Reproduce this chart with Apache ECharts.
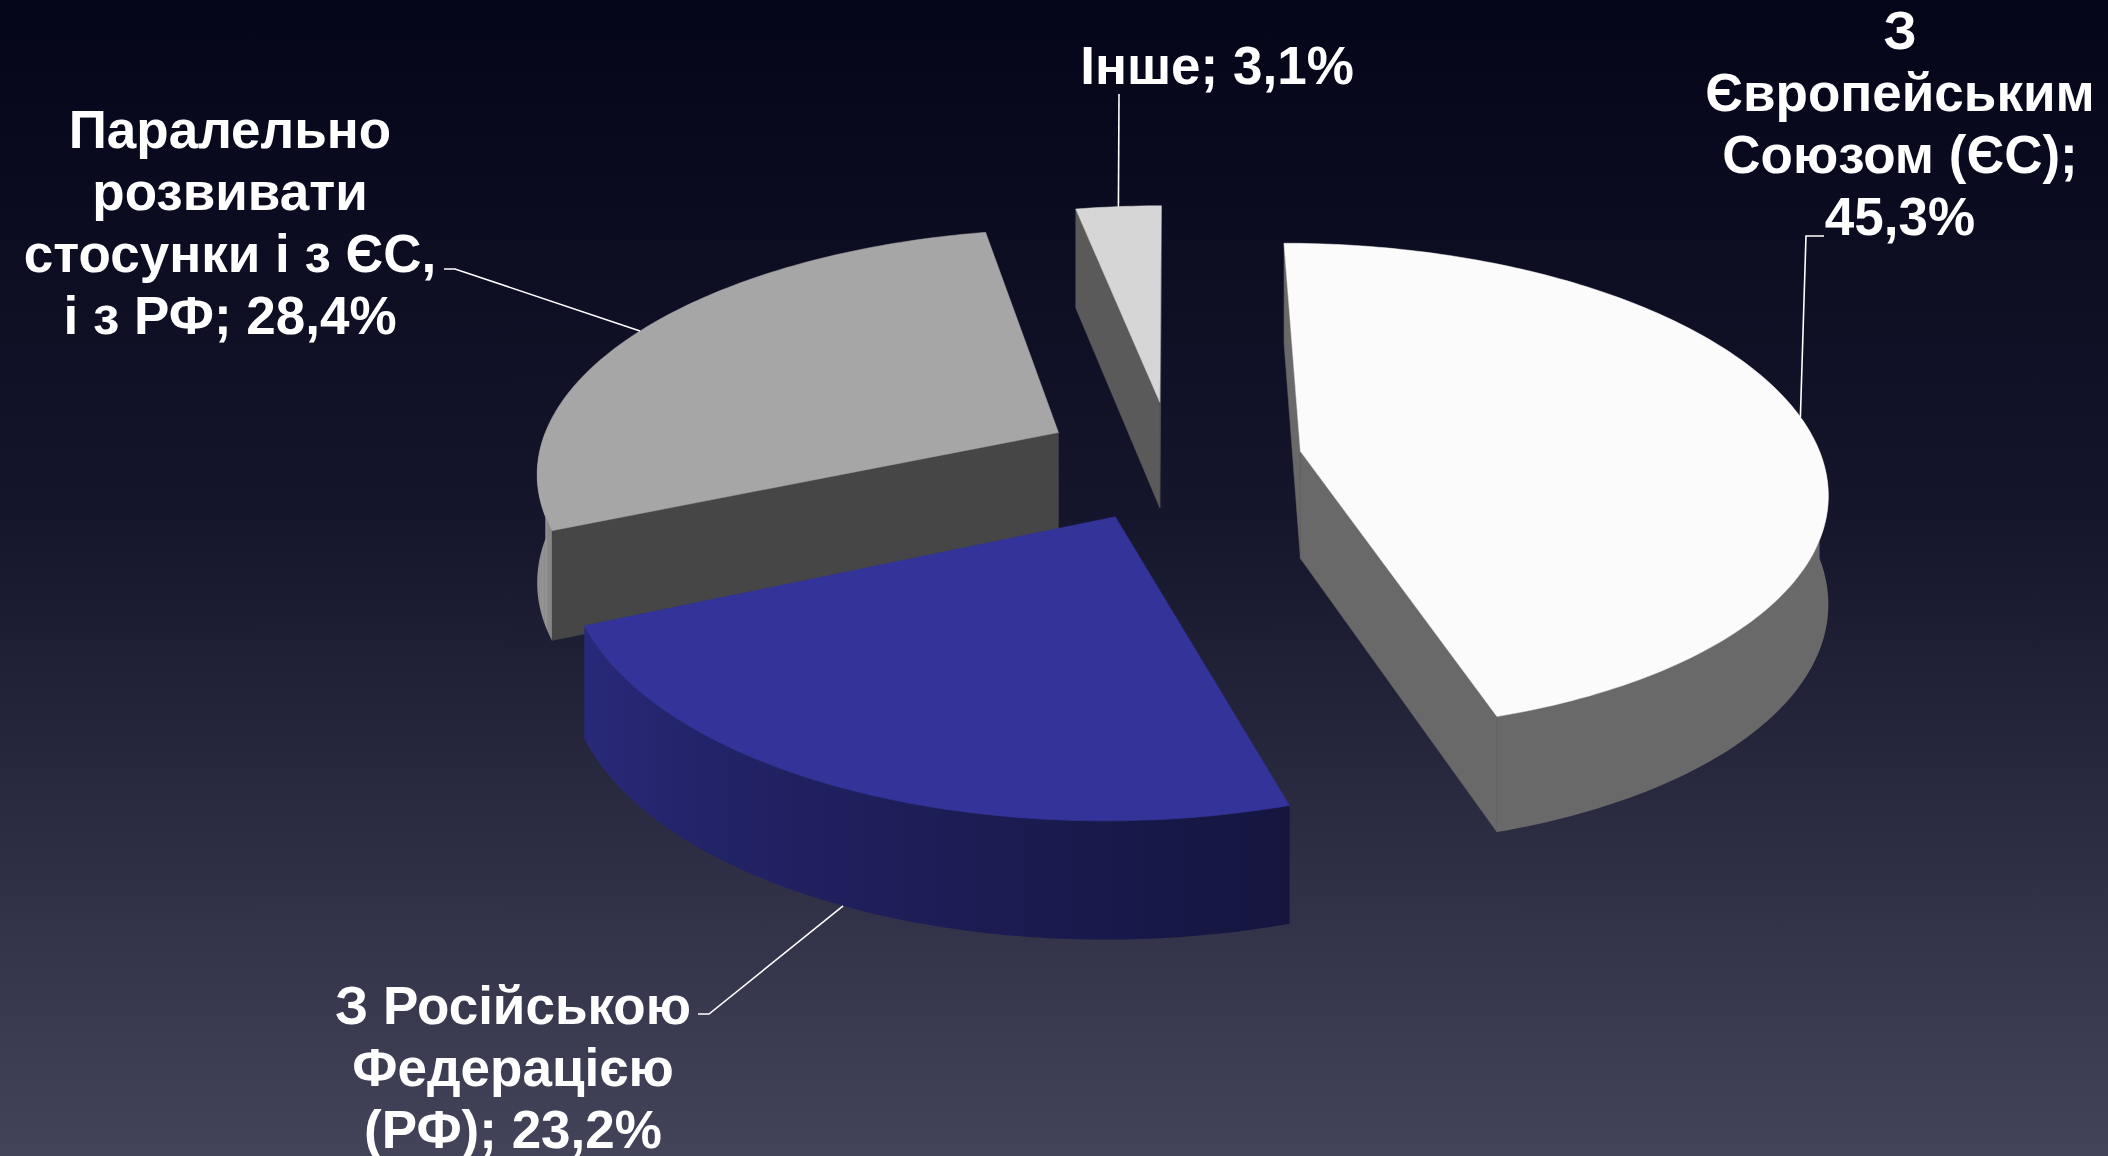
<!DOCTYPE html>
<html><head><meta charset="utf-8">
<script src="https://cdn.jsdelivr.net/npm/echarts@6/dist/echarts.min.js"></script>
<style>html,body{margin:0;padding:0;width:100%;height:100%;overflow:hidden;background:#0a0a18}#main{width:2108px;height:1156px}</style>
</head><body><div id="main"></div>
<script>
// ---- data ----
const categories = ['З Європейським Союзом (ЄС)', 'З Російською Федерацією (РФ)', 'Паралельно розвивати стосунки і з ЄС, і з РФ', 'Інше'];
const values = [45.3, 23.2, 28.4, 3.1];

// ---- styles / layout ----
const topColors = ['#fbfbfb', '#333399', '#a6a6a6', '#d6d6d6'];
const labelWordsPerLine = [[1, 1, 2, 1], [2, 1, 2], [1, 1, 4, 4], [2]];
const labelLayout = [
  { x: 1900, y: 123, leader: [[1824, 236], [1806, 236]], bottom: false },
  { x: 513, y: 1067, leader: [[698, 1014], [709, 1014]], bottom: true },
  { x: 230, y: 222, leader: [[444, 269], [455, 269]], bottom: false },
  { x: 1217, y: 65, leader: [[1119, 94]], bottom: false }
];
const FONT = 'bold 53px "Liberation Sans", Arial, sans-serif';

function shade(hex, f) {
  const n = parseInt(hex.slice(1), 16);
  const r = Math.round(((n >> 16) & 255) * f), g = Math.round(((n >> 8) & 255) * f), b = Math.round((n & 255) * f);
  return 'rgb(' + r + ',' + g + ',' + b + ')';
}
function wallFactor(phi) {
  if (phi <= 165) return 0.42;
  return Math.min(0.92, 0.42 + 0.5 * (phi - 165) / 105);
}
function fmtPct(v) { return v.toFixed(1).replace('.', ',') + '%'; }
function labelText(i) {
  const words = (categories[i] + '; ' + fmtPct(values[i])).split(' ');
  const lines = []; let k = 0;
  labelWordsPerLine[i].forEach(n => { lines.push(words.slice(k, k + n).join(' ')); k += n; });
  if (k < words.length) lines[lines.length - 1] += ' ' + words.slice(k).join(' ');
  return lines.join('\n');
}
function area(pts) {
  let s = 0;
  for (let i = 0; i < pts.length; i++) { const a = pts[i], b = pts[(i + 1) % pts.length]; s += a[0] * b[1] - b[0] * a[1]; }
  return s;
}
const rad = d => d * Math.PI / 180;
const E = 0.25, P = 0.147;

function renderItem(params, api) {
  const i = params.dataIndex;
  const W = api.getWidth(), H = api.getHeight();
  const sx = W / 2108, sy = H / 1156;
  const cx = W * 0.556, cy = H * 0.398, RX = W * 0.2476, RY = H * 0.2085, TH = H * 0.093;
  const total = values.reduce((a, b) => a + b, 0);
  let start = 0;
  for (let k = 0; k < i; k++) start += values[k] / total * 360;
  const end = start + api.value(0) / total * 360;
  const mid = (start + end) / 2;
  // depth rank (back to front)
  const depths = values.map((v, k) => {
    let s0 = 0; for (let j = 0; j < k; j++) s0 += values[j] / total * 360;
    const m = s0 + v / total * 180; return -Math.cos(rad(m));
  });
  const sorted = depths.slice().sort((a, b) => a - b);
  const base = sorted.indexOf(depths[i]) * 10;

  const ex = E * Math.sin(rad(mid)), ez = -E * Math.cos(rad(mid));
  function pt(X, Z, d) { const s = 1 / (1 - P * Z); return [cx + RX * X * s, cy + RY * Z * s + TH * d * Math.sqrt(s)]; }
  const rim = (phi, d) => pt(ex + Math.sin(rad(phi)), ez - Math.cos(rad(phi)), d);
  const apex = d => pt(ex, ez, d);
  const col = topColors[i];
  const children = [];

  // cut faces
  const sf = [apex(0), rim(start, 0), rim(start, 1), apex(1)];
  if (area(sf) < 0) children.push({ type: 'polygon', z2: base + 1, shape: { points: sf }, style: { fill: shade(col, 0.42), stroke: shade(col, 0.42), lineWidth: 0.5 } });
  const ef = [apex(0), rim(end, 0), rim(end, 1), apex(1)];
  if (area(ef) > 0) children.push({ type: 'polygon', z2: base + 1, shape: { points: ef }, style: { fill: shade(col, 0.42), stroke: shade(col, 0.42), lineWidth: 0.5 } });

  // outer wall
  const a = Math.max(start, 90), b = Math.min(end, 270);
  if (a < b) {
    const n = Math.max(2, Math.ceil(b - a));
    const topPts = [], botPts = [];
    for (let k = 0; k <= n; k++) { const phi = a + (b - a) * k / n; topPts.push(rim(phi, 0)); botPts.push(rim(phi, 1)); }
    const pts = topPts.concat(botPts.reverse());
    const xs = topPts.map(p => p[0]);
    const xmin = Math.min.apply(null, xs), xmax = Math.max.apply(null, xs);
    const stops = [];
    for (let k = 0; k <= 12; k++) {
      const phi = a + (b - a) * k / 12; const x = rim(phi, 0)[0];
      stops.push({ offset: xmax > xmin ? (x - xmin) / (xmax - xmin) : 0, color: shade(col, wallFactor(phi)) });
    }
    stops.sort((p, q) => p.offset - q.offset);
    children.push({ type: 'polygon', z2: base + 2, shape: { points: pts },
      style: { fill: new echarts.graphic.LinearGradient(xmin, 0, xmax, 0, stops, true) } });
  }

  // top face
  const tp = [apex(0)];
  const nt = Math.max(2, Math.ceil(end - start));
  for (let k = 0; k <= nt; k++) tp.push(rim(start + (end - start) * k / nt, 0));
  children.push({ type: 'polygon', z2: base + 3, shape: { points: tp }, style: { fill: col, stroke: col, lineWidth: 0.5 } });

  // label + leader
  const L = labelLayout[i];
  const att = rim(mid, L.bottom ? 1 : 0);
  const lpts = L.leader.map(p => [p[0] * sx, p[1] * sy]).concat([att]);
  children.push({ type: 'polyline', z2: 99, shape: { points: lpts }, style: { stroke: '#ffffff', lineWidth: 1.6, fill: null } });
  children.push({ type: 'text', z2: 100, style: { text: labelText(i), x: L.x * sx, y: L.y * sy, fill: '#ffffff', font: FONT,
    align: 'center', verticalAlign: 'middle', textAlign: 'center', textVerticalAlign: 'middle', lineHeight: 62 * sy } });
  return { type: 'group', children: children };
}

const chart = echarts.init(document.getElementById('main'), null, { renderer: 'svg' });
chart.setOption({
  animation: false,
  backgroundColor: new echarts.graphic.LinearGradient(0, 0, 0, 1, [
    { offset: 0, color: '#05051a' }, { offset: 0.45, color: '#15152b' }, { offset: 1, color: '#43435a' }
  ]),
  series: [{
    type: 'custom',
    coordinateSystem: 'none',
    silent: true,
    renderItem: renderItem,
    data: values.map((v, i) => ({ name: categories[i], value: [v, i] }))
  }]
});
</script></body></html>
